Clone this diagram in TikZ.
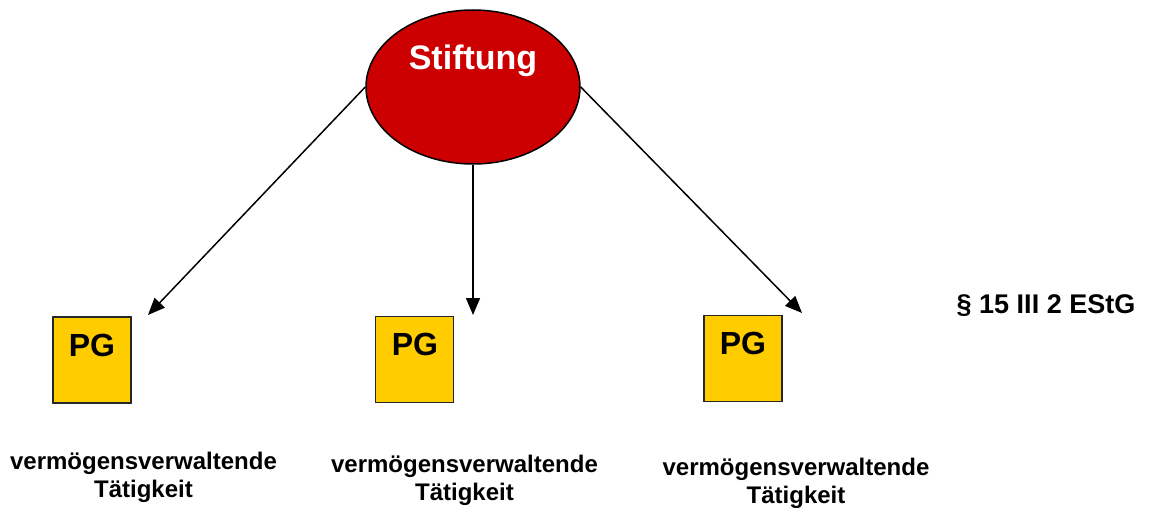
\documentclass[tikz,border=0pt]{standalone}
\usepackage{fontspec}
\setmainfont{Liberation Sans}
\usetikzlibrary{shapes.geometric,arrows.meta}
\definecolor{stred}{HTML}{CC0000}
\definecolor{pgyellow}{HTML}{FFCC00}
\tikzset{
  conn/.style={draw=black, line width=1.5pt, -{Triangle[length=17pt,width=14pt]}},
  pgbox/.style={draw=black!85, line width=1.5pt, fill=pgyellow, minimum width=78pt, minimum height=86pt, inner sep=0pt},
  pgtext/.style={font=\fontsize{32}{36}\selectfont\bfseries, anchor=base, inner sep=0pt},
  lbl/.style={font=\fontsize{24}{28}\selectfont\bfseries, align=center, anchor=base, inner sep=0pt}
}
\begin{document}
\begin{tikzpicture}[x=1pt,y=-1pt]
\useasboundingbox (0,0) rectangle (1151,508);
\node[ellipse, draw=black, line width=1.5pt, fill=stred, minimum width=214pt, minimum height=154pt, inner sep=0pt] (st) at (473,87) {};
\node[font=\fontsize{34}{38}\selectfont\bfseries, text=white, anchor=base, inner sep=0pt] (sttext) at (473,70) {Stiftung};

\node[pgbox] (pg1) at (92,360) {};
\node[pgbox] (pg2) at (414.5,359.5) {};
\node[pgbox] (pg3) at (743,358.5) {};
\node[pgtext] (pg1t) at (92,356) {PG};
\node[pgtext] (pg2t) at (415,355) {PG};
\node[pgtext] (pg3t) at (743,354) {PG};

\coordinate (t1) at (148,315);
\coordinate (t2) at (473,315);
\coordinate (t3) at (802,313);
\draw[conn] (st.west) -- (t1);
\draw[conn] (st.south) -- (t2);
\draw[conn] (st.east) -- (t3);

\node[lbl] (l1) at (143.5,497) {vermögensverwaltende\\Tätigkeit};
\node[lbl] (l2) at (464.5,500) {vermögensverwaltende\\Tätigkeit};
\node[lbl] (l3) at (796,503) {vermögensverwaltende\\Tätigkeit};

\node[font=\fontsize{27}{30}\selectfont\bfseries, anchor=base, inner sep=0pt] (estg) at (1046,313) {§ 15 III 2 EStG};
\end{tikzpicture}
\end{document}
